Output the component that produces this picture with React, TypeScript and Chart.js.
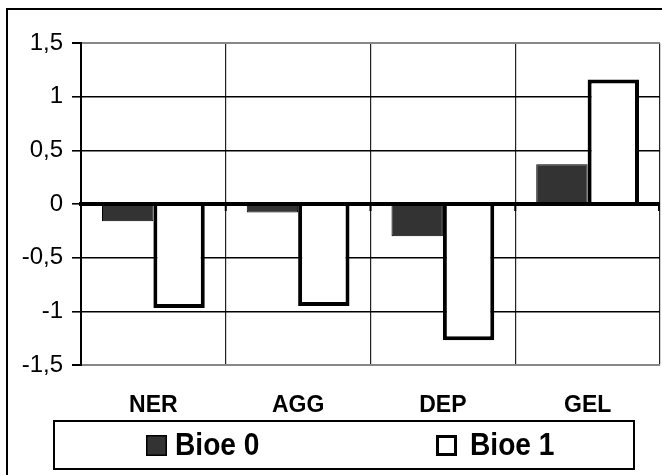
import React, { useEffect, useRef } from "react";
import { Chart, registerables } from "chart.js";

Chart.register(...registerables);

const categories = ["NER", "AGG", "DEP", "GEL"];
const bioe0 = [-0.16, -0.08, -0.3, 0.37];
const bioe1 = [-0.97, -0.95, -1.27, 1.16];
const seriesLabels = ["Bioe 0", "Bioe 1"];
const yMin = -1.5;
const yMax = 1.5;
const yStep = 0.5;

const FONT = "'Liberation Sans', Arial, sans-serif";

const framePlugin = {
  id: "frame",
  afterDraw(chart: any) {
    const ctx = chart.ctx;
    ctx.save();
    ctx.strokeStyle = "#000";
    ctx.lineWidth = 2;
    ctx.beginPath();
    ctx.moveTo(7, 480);
    ctx.lineTo(7, 9);
    ctx.lineTo(670, 9);
    ctx.stroke();
    ctx.restore();
  },
};

const zeroLinePlugin = {
  id: "zeroLine",
  afterDatasetsDraw(chart: any) {
    const ctx = chart.ctx;
    const x = chart.scales.x;
    const y = chart.scales.y;
    const area = chart.chartArea;
    const y0 = y.getPixelForValue(0);
    ctx.save();
    ctx.strokeStyle = "#000";
    ctx.lineWidth = 4;
    ctx.beginPath();
    ctx.moveTo(area.left - 2, y0);
    ctx.lineTo(area.right, y0);
    ctx.stroke();
    ctx.lineWidth = 2;
    const n = chart.data.labels.length;
    for (let i = 0; i <= n; i++) {
      let px;
      if (i === 0) px = area.left;
      else if (i === n) px = area.right - 1;
      else px = (x.getPixelForValue(i - 1) + x.getPixelForValue(i)) / 2;
      ctx.beginPath();
      ctx.moveTo(px, y0);
      ctx.lineTo(px, y0 + 7);
      ctx.stroke();
    }
    ctx.restore();
  },
};

const legendPlugin = {
  id: "boxLegend",
  afterDraw(chart: any) {
    const ctx = chart.ctx;
    ctx.save();
    ctx.strokeStyle = "#000";
    ctx.lineWidth = 2;
    ctx.strokeRect(54, 421, 580, 48);
    const items = [
      { sx: 146, tx: 175 },
      { sx: 436, tx: 470 },
    ];
    const cy = 445;
    chart.data.datasets.forEach((ds: any, i: number) => {
      const it = items[i];
      ctx.fillStyle = ds.backgroundColor;
      ctx.fillRect(it.sx, cy - 10, 21, 21);
      ctx.strokeStyle = "#000";
      const lw = i === 0 ? 1.5 : 3;
      ctx.lineWidth = lw;
      ctx.strokeRect(it.sx + lw / 2, cy - 10 + lw / 2, 21 - lw, 21 - lw);
      ctx.save();
      ctx.translate(it.tx, cy + 1);
      ctx.scale(0.88, 1);
      ctx.fillStyle = "#000";
      ctx.font = `bold 32px ${FONT}`;
      ctx.textBaseline = "middle";
      ctx.textAlign = "left";
      ctx.fillText(ds.label, 0, 0);
      ctx.restore();
    });
    ctx.restore();
  },
};

export default function App() {
  const ref = useRef<HTMLCanvasElement>(null);
  useEffect(() => {
    if (!ref.current) return;
    const chart = new Chart(ref.current, {
      type: "bar",
      data: {
        labels: categories,
        datasets: [
          {
            label: seriesLabels[0],
            data: bioe0,
            backgroundColor: "#333333",
            borderColor: "#000",
            borderWidth: 1,
            categoryPercentage: 0.71,
            barPercentage: 1.0,
          },
          {
            label: seriesLabels[1],
            data: bioe1,
            backgroundColor: "#ffffff",
            borderColor: "#000",
            borderWidth: 4,
            categoryPercentage: 0.71,
            barPercentage: 1.0,
          },
        ],
      },
      options: {
        animation: false,
        responsive: false,
        events: [],
        layout: { padding: { left: 0, top: 43, right: 2, bottom: 0 } },
        plugins: {
          legend: { display: false },
          tooltip: { enabled: false },
          title: { display: false },
        },
        scales: {
          x: {
            afterFit: (s: any) => {
              s.height = 110;
            },
            grid: {
              display: true,
              offset: true,
              color: "#222",
              lineWidth: 1.2,
              drawTicks: false,
            },
            border: { display: true, color: "#888", width: 2 },
            ticks: {
              color: "#000",
              font: { family: FONT, size: 23, weight: "bold" },
              padding: 27,
              maxRotation: 0,
            },
          },
          y: {
            min: yMin,
            max: yMax,
            afterFit: (s: any) => {
              s.width = 81;
            },
            ticks: {
              stepSize: yStep,
              color: "#000",
              font: { family: FONT, size: 24 },
              padding: 9,
              callback: (v: any) => String(Number(v)).replace(".", ","),
            },
            grid: {
              color: (c: any) =>
                c.tick && (c.tick.value === yMax || c.tick.value === yMin) ? "#888" : "#000",
              lineWidth: (c: any) =>
                c.tick && (c.tick.value === yMax || c.tick.value === yMin) ? 2 : 1.6,
              tickColor: "#000",
              tickLength: 9,
              drawTicks: true,
            },
            border: { display: true, color: "#000", width: 2 },
          },
        },
      },
      plugins: [zeroLinePlugin, legendPlugin, framePlugin],
    } as any);
    return () => chart.destroy();
  }, []);
  return (
    <div style={{ position: "absolute", left: 0, top: 0, width: 662, height: 475, background: "#fff" }}>
      <canvas ref={ref} width={662} height={475} style={{ width: 662, height: 475, display: "block" }} />
    </div>
  );
}
